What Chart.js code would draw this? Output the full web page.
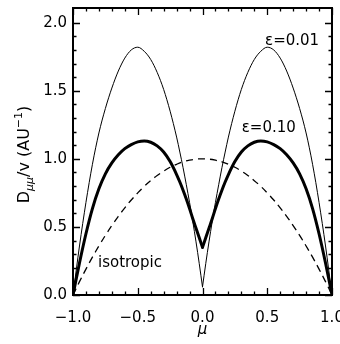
<!DOCTYPE html>
<html><head><meta charset="utf-8">
<script src="https://cdn.jsdelivr.net/npm/chart.js@4.4.1/dist/chart.umd.min.js"></script>
<style>html,body{margin:0;padding:0;background:#fff;}#wrap{width:340px;height:344px;}</style>
</head><body><div id="wrap"><canvas id="c" width="340" height="344"></canvas></div>
<script>
// pitch-angle cosine grid for the two anisotropic curves
const muEps = [-1, -0.95, -0.9, -0.85, -0.8, -0.75, -0.7, -0.65, -0.6, -0.55, -0.5, -0.45, -0.4, -0.35, -0.3, -0.25, -0.2, -0.175, -0.15, -0.125, -0.1, -0.075, -0.05, -0.025, 0,
               0.025, 0.05, 0.075, 0.1, 0.125, 0.15, 0.175, 0.2, 0.25, 0.3, 0.35, 0.4, 0.45, 0.5, 0.55, 0.6, 0.65, 0.7, 0.75, 0.8, 0.85, 0.9, 0.95, 1];
// epsilon = 0.01 (thin)
const eps001 = [0, 0.36, 0.68, 0.96, 1.19, 1.37, 1.52, 1.645, 1.74, 1.80, 1.82, 1.79, 1.73, 1.635, 1.51, 1.35, 1.16, 1.05, 0.935, 0.81, 0.68, 0.54, 0.39, 0.23, 0.06,
                0.23, 0.39, 0.54, 0.68, 0.81, 0.935, 1.05, 1.16, 1.35, 1.51, 1.635, 1.73, 1.79, 1.82, 1.80, 1.74, 1.645, 1.52, 1.37, 1.19, 0.96, 0.68, 0.36, 0];
// epsilon = 0.10 (thick)
const eps010 = [0, 0.235, 0.45, 0.635, 0.78, 0.89, 0.97, 1.03, 1.075, 1.105, 1.125, 1.132, 1.122, 1.095, 1.05, 0.98, 0.885, 0.83, 0.77, 0.705, 0.635, 0.56, 0.49, 0.42, 0.35,
                0.42, 0.49, 0.56, 0.635, 0.705, 0.77, 0.83, 0.885, 0.98, 1.05, 1.095, 1.122, 1.132, 1.125, 1.105, 1.075, 1.03, 0.97, 0.89, 0.78, 0.635, 0.45, 0.235, 0];
// isotropic (dashed)
const muIso = [-1, -0.95, -0.9, -0.85, -0.8, -0.75, -0.7, -0.65, -0.6, -0.55, -0.5, -0.45, -0.4, -0.35, -0.3, -0.25, -0.2, -0.15, -0.1, -0.05, 0,
               0.05, 0.1, 0.15, 0.2, 0.25, 0.3, 0.35, 0.4, 0.45, 0.5, 0.55, 0.6, 0.65, 0.7, 0.75, 0.8, 0.85, 0.9, 0.95, 1];
const iso = [0, 0.098, 0.19, 0.278, 0.36, 0.438, 0.51, 0.578, 0.64, 0.698, 0.75, 0.798, 0.84, 0.878, 0.91, 0.938, 0.96, 0.978, 0.99, 0.998, 1,
             0.998, 0.99, 0.978, 0.96, 0.938, 0.91, 0.878, 0.84, 0.798, 0.75, 0.698, 0.64, 0.578, 0.51, 0.438, 0.36, 0.278, 0.19, 0.098, 0];
const xTicks = [-1, -0.5, 0, 0.5, 1];
const yTicks = [0, 0.5, 1, 1.5, 2];
const xMinor = [-0.9, -0.8, -0.7, -0.6, -0.4, -0.3, -0.2, -0.1, 0.1, 0.2, 0.3, 0.4, 0.6, 0.7, 0.8, 0.9];
const yMinor = [0.1, 0.2, 0.3, 0.4, 0.6, 0.7, 0.8, 0.9, 1.1, 1.2, 1.3, 1.4, 1.6, 1.7, 1.8, 1.9];
const curveLabels = [
  {text: 'ε=0.01', mu: 0.483, d: 1.834},
  {text: 'ε=0.10', mu: 0.303, d: 1.199},
  {text: 'isotropic', mu: -0.807, d: 0.204}
];

const FONT = '"DejaVu Sans", "Liberation Sans", sans-serif';
function pts(xs, ys, from, to) {
  const out = [];
  for (let i = from; i <= to; i++) out.push({x: xs[i], y: ys[i]});
  return out;
}
const iZero = muEps.indexOf(0);
const last = muEps.length - 1;
function fmt(v) {
  const s = Math.abs(v).toFixed(1);
  return v < 0 ? '\u2212' + s : s;
}
function half(data, width) {
  return {data, borderColor: '#000', borderWidth: width, pointRadius: 0, fill: false,
          cubicInterpolationMode: 'monotone', borderCapStyle: 'round', borderJoinStyle: 'round'};
}

const frame = {
  id: 'frame',
  afterDatasetsDraw(chart) {
    const {ctx, chartArea: a, scales: {x, y}} = chart;
    ctx.save();
    ctx.strokeStyle = '#000';
    ctx.lineWidth = 2;
    ctx.strokeRect(a.left, a.top, a.right - a.left, a.bottom - a.top);
    ctx.lineWidth = 1.3;
    ctx.beginPath();
    const tickX = (v, len) => {
      const px = Math.round(x.getPixelForValue(v)) + 0.5;
      ctx.moveTo(px, a.bottom); ctx.lineTo(px, a.bottom - len);
      ctx.moveTo(px, a.top); ctx.lineTo(px, a.top + len);
    };
    const tickY = (v, len) => {
      const py = Math.round(y.getPixelForValue(v)) + 0.5;
      ctx.moveTo(a.left, py); ctx.lineTo(a.left + len, py);
      ctx.moveTo(a.right, py); ctx.lineTo(a.right - len, py);
    };
    xTicks.forEach(v => tickX(v, 7));
    xMinor.forEach(v => tickX(v, 3.5));
    yTicks.forEach(v => tickY(v, 7));
    yMinor.forEach(v => tickY(v, 3.5));
    ctx.stroke();

    // curve labels
    ctx.fillStyle = '#000';
    ctx.font = '15px ' + FONT;
    ctx.textAlign = 'left';
    ctx.textBaseline = 'alphabetic';
    curveLabels.forEach(l => ctx.fillText(l.text, x.getPixelForValue(l.mu), y.getPixelForValue(l.d)));

    // x title
    ctx.font = 'italic 15px ' + FONT;
    ctx.textAlign = 'center';
    ctx.fillText('μ', x.getPixelForValue(0), 334);

    // y title with subscript and superscript
    const parts = [
      {t: 'D', f: '16px ' + FONT, dy: 0},
      {t: 'μμ', f: 'italic 11px ' + FONT, dy: 4},
      {t: '/v (AU', f: '16px ' + FONT, dy: 0},
      {t: '\u22121', f: '11px ' + FONT, dy: -7},
      {t: ')', f: '16px ' + FONT, dy: 0}
    ];
    let total = 0;
    parts.forEach(p => { ctx.font = p.f; p.w = ctx.measureText(p.t).width; total += p.w; });
    ctx.translate(28.5, (a.top + a.bottom) / 2 + 3);
    ctx.rotate(-Math.PI / 2);
    ctx.textAlign = 'left';
    let cx = -total / 2;
    parts.forEach(p => { ctx.font = p.f; ctx.fillText(p.t, cx, p.dy); cx += p.w; });
    ctx.restore();
  }
};

new Chart(document.getElementById('c'), {
  type: 'line',
  data: {
    datasets: [
      half(pts(muEps, eps001, 0, iZero), 1),
      half(pts(muEps, eps001, iZero, last), 1),
      half(pts(muEps, eps010, 0, iZero), 3),
      half(pts(muEps, eps010, iZero, last), 3),
      {data: pts(muIso, iso, 0, muIso.length - 1), borderColor: '#000', borderWidth: 1.3,
       borderDash: [7, 5], pointRadius: 0, fill: false, tension: 0.4}
    ]
  },
  options: {
    responsive: false,
    animation: false,
    events: [],
    layout: {padding: {left: 0, right: 8, top: 8, bottom: 0}},
    plugins: {legend: {display: false}, tooltip: {enabled: false}},
    scales: {
      x: {
        type: 'linear', min: -1, max: 1,
        afterBuildTicks: s => { s.ticks = xTicks.map(v => ({value: v})); },
        afterFit: s => { s.height = 49; s.paddingLeft = 0; s.paddingRight = 0; },
        grid: {display: false, drawTicks: false},
        border: {display: false},
        ticks: {callback: v => fmt(v), color: '#000', font: {family: FONT, size: 15}, padding: 14, maxRotation: 0, autoSkip: false}
      },
      y: {
        type: 'linear', min: 0, max: 2.108,
        afterBuildTicks: s => { s.ticks = yTicks.map(v => ({value: v})); },
        afterFit: s => { s.width = 73; s.paddingTop = 0; s.paddingBottom = 0; },
        grid: {display: false, drawTicks: false},
        border: {display: false},
        ticks: {callback: v => fmt(v), color: '#000', font: {family: FONT, size: 15}, padding: 6, autoSkip: false}
      }
    }
  },
  plugins: [frame]
});
</script>
</body></html>
